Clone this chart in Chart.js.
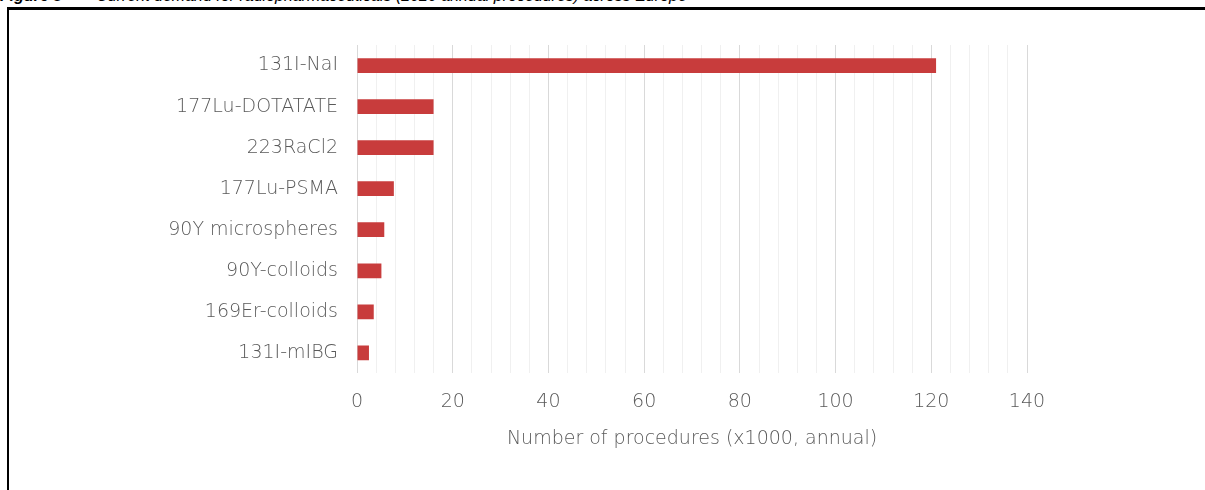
<!DOCTYPE html>
<html>
<head>
<meta charset="utf-8">
<script src="https://cdn.jsdelivr.net/npm/chart.js@4.4.1/dist/chart.umd.min.js"></script>
<style>
  html, body { margin: 0; padding: 0; background: #fff; overflow: hidden; }
  #wrap { position: relative; width: 1205px; height: 490px; }
  #caption {
    position: absolute; left: 0; top: -13px; white-space: nowrap;
    font: italic 16px "Liberation Sans", Arial, sans-serif; color: #000;
  }
  #caption b { margin-right: 34px; }
  #frame {
    position: absolute; left: 7px; top: 7px; width: 1300px; height: 600px;
    border-top: 3px solid #000; border-left: 2px solid #000; pointer-events: none;
  }
  canvas { position: absolute; left: 0; top: 0; }
</style>
</head>
<body>
<div id="wrap">
  <div id="caption"><b>Figure 3</b>Current demand for radiopharmaceuticals (2020 annual procedures) across Europe</div>
  <canvas id="demandChart" width="1205" height="490"></canvas>
  <div id="frame"></div>
</div>
<script>
// ---- data ----
const products   = ['131I-NaI', '177Lu-DOTATATE', '223RaCl2', '177Lu-PSMA', '90Y microspheres', '90Y-colloids', '169Er-colloids', '131I-mIBG'];
const procedures = [121, 16, 16, 7.7, 5.7, 5.1, 3.5, 2.5];   // x1000 per year
const xTicks     = [0, 20, 40, 60, 80, 100, 120, 140];

const FONT = "'DejaVu Sans', sans-serif";
const TXT  = '#595959';

new Chart(document.getElementById('demandChart'), {
  type: 'bar',
  data: {
    labels: products,
    datasets: [{
      data: procedures,
      backgroundColor: '#C83C3C',
      borderWidth: 0,
      barPercentage: 0.36,
      categoryPercentage: 1
    }]
  },
  options: {
    indexAxis: 'y',
    responsive: false,
    animation: false,
    layout: { padding: { top: 45, right: 178, bottom: 40, left: 0 } },
    plugins: { legend: { display: false }, tooltip: { enabled: false } },
    scales: {
      x: {
        min: 0, max: 140,
        border: { display: false },
        grid: {
          drawTicks: false,
          lineWidth: 1,
          color: c => xTicks.includes(c.tick.value) ? '#d9d9d9' : '#f0f0f0'
        },
        ticks: {
          stepSize: 4,
          autoSkip: false,
          maxRotation: 0,
          padding: 17,
          color: TXT,
          font: { family: FONT, size: 19, weight: 200 },
          callback: v => xTicks.includes(v) ? v : ''
        },
        title: {
          display: true,
          text: 'Number of procedures (x1000, annual)',
          color: TXT,
          font: { family: FONT, size: 19, weight: 200 },
          padding: { top: -3, bottom: 0 }
        }
      },
      y: {
        border: { display: false },
        grid: { display: false },
        ticks: {
          padding: 11,
          color: TXT,
          font: { family: FONT, size: 19, weight: 200 }
        },
        afterFit: s => { s.width = 357; }
      }
    }
  }
});
</script>
</body>
</html>
